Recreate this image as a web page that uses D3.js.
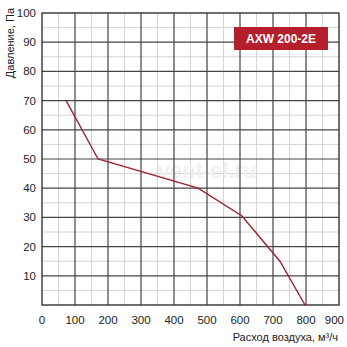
<!DOCTYPE html>
<html>
<head>
<meta charset="utf-8">
<script src="https://cdn.jsdelivr.net/npm/d3@7"></script>
<style>
body{margin:0;background:#fff;}
text{font-family:"Liberation Sans",Arial,sans-serif;}
</style>
</head>
<body>
<div id="chart"></div>
<script>
var w=347;
var h=347;

var flow=[73,170,473,606,721,797];
var pressure=[70,50,40,30.5,15,0];
var xTicks=[0,100,200,300,400,500,600,700,800,900];
var yTicks=[10,20,30,40,50,60,70,80,90,100];
var model="AXW 200-2E";

var m={left:42,right:8,top:13,bottom:42};

var svg=d3.select("#chart").append("svg")
          .attr("width",w)
          .attr("height",h);

var x=d3.scaleLinear().domain([0,900]).range([m.left,w-m.right]);
var y=d3.scaleLinear().domain([0,100]).range([h-m.bottom,m.top]);

// light minor grid
var minorX=d3.range(50,900,100);
var minorY=d3.range(5,100,10);
svg.append("g").selectAll("line").data(minorX).enter().append("line")
   .attr("x1",function(d){return x(d);}).attr("x2",function(d){return x(d);})
   .attr("y1",y(0)).attr("y2",y(100))
   .attr("stroke","#d4d4d4").attr("stroke-width",1);
svg.append("g").selectAll("line").data(minorY).enter().append("line")
   .attr("y1",function(d){return y(d);}).attr("y2",function(d){return y(d);})
   .attr("x1",x(0)).attr("x2",x(900))
   .attr("stroke","#d4d4d4").attr("stroke-width",1);

// watermark
svg.append("text")
   .attr("x",x(500)).attr("y",y(45)+4)
   .attr("text-anchor","middle")
   .attr("font-size",22).attr("font-weight","bold")
   .attr("fill","#f0f0f0")
   .text("vent-el.ru");

// major grid
svg.append("g").selectAll("line").data(xTicks.slice(1,-1)).enter().append("line")
   .attr("x1",function(d){return x(d);}).attr("x2",function(d){return x(d);})
   .attr("y1",y(0)).attr("y2",y(100))
   .attr("stroke","#444").attr("stroke-width",1.2);
svg.append("g").selectAll("line").data(yTicks.slice(0,-1)).enter().append("line")
   .attr("y1",function(d){return y(d);}).attr("y2",function(d){return y(d);})
   .attr("x1",x(0)).attr("x2",x(900))
   .attr("stroke","#444").attr("stroke-width",1.2);

svg.append("rect")
   .attr("x",x(0)).attr("y",y(100))
   .attr("width",x(900)-x(0)).attr("height",y(0)-y(100))
   .attr("fill","none").attr("stroke","#333").attr("stroke-width",1.4);

// curve
var pts=flow.map(function(d,i){return [d,pressure[i]];});
svg.append("path")
   .datum(pts)
   .attr("d",d3.line().x(function(d){return x(d[0]);}).y(function(d){return y(d[1]);}))
   .attr("fill","none")
   .attr("stroke","#9b2230")
   .attr("stroke-width",1.4);

// tick labels
svg.append("g").selectAll("text").data(xTicks).enter().append("text")
   .attr("x",function(d,i){return i===xTicks.length-1 ? w-3 : x(d);})
   .attr("y",y(0)+19)
   .attr("text-anchor",function(d,i){return i===xTicks.length-1 ? "end" : "middle";})
   .attr("font-size",11.5)
   .attr("fill","#222")
   .text(function(d){return d;});
svg.append("g").selectAll("text").data(yTicks).enter().append("text")
   .attr("x",x(0)-6)
   .attr("y",function(d){return y(d)+4;})
   .attr("text-anchor","end")
   .attr("font-size",11.5)
   .attr("fill","#222")
   .text(function(d){return d;});

// axis titles
svg.append("text")
   .attr("x",w-9).attr("y",h-6)
   .attr("text-anchor","end")
   .attr("font-size",11)
   .attr("fill","#222")
   .text("Расход воздуха, м³/ч");
svg.append("text")
   .attr("transform","translate(14,8) rotate(-90)")
   .attr("text-anchor","end")
   .attr("font-size",11)
   .attr("fill","#222")
   .text("Давление, Па");

// model badge
svg.append("rect")
   .attr("x",234).attr("y",27)
   .attr("width",94).attr("height",23)
   .attr("fill","#b41f2b");
svg.append("text")
   .attr("x",281).attr("y",43)
   .attr("text-anchor","middle")
   .attr("font-size",12).attr("font-weight","bold")
   .attr("fill","#fff")
   .text(model);
</script>
</body>
</html>
